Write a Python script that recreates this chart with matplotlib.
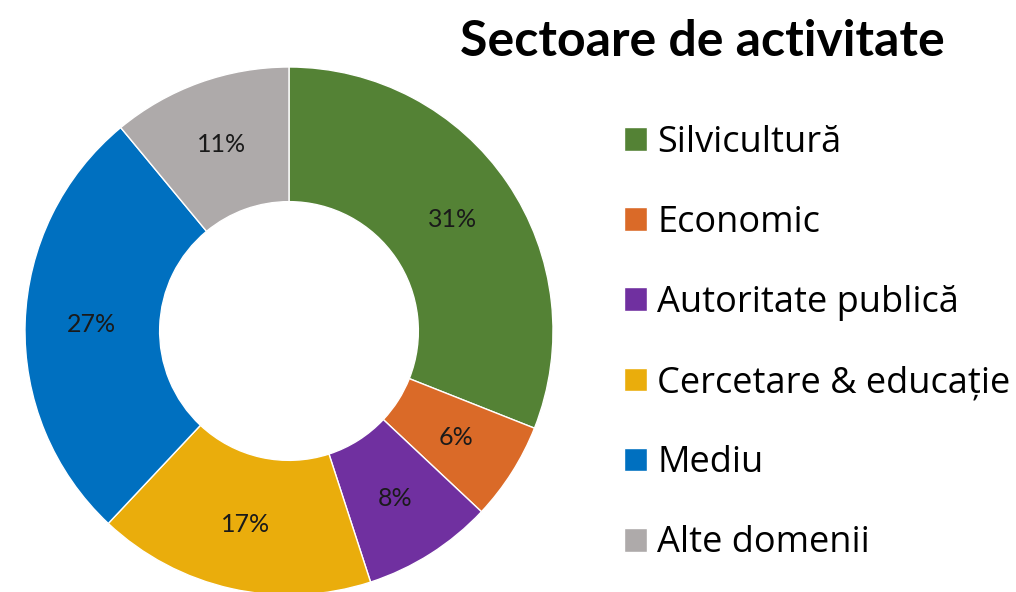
import matplotlib
matplotlib.use("Agg")
import matplotlib.pyplot as plt

categories = ['Silvicultură', 'Economic', 'Autoritate publică',
              'Cercetare & educație', 'Mediu', 'Alte domenii']
shares = [31, 6, 8, 17, 27, 11]
colors = ['#548235', '#DA6A28', '#7030A0', '#EAAD0C', '#0070C0', '#AEAAAA']
title = 'Sectoare de activitate'

fig = plt.figure(figsize=(10.16, 5.92), dpi=100)

# pie axes: square box, 528 px wide, centre at (289, 331) px from top-left
ax = fig.add_axes([25 / 1016, (592 - 331 - 264) / 592, 528 / 1016, 528 / 592])
wedges, texts, autotexts = ax.pie(
    shares, colors=colors, startangle=90, counterclock=False,
    radius=1, autopct='%d%%', pctdistance=0.75,
    wedgeprops=dict(width=0.51, edgecolor='white', linewidth=1),
    textprops=dict(family='Lato', fontsize=18, color='#1a1a1a'))
ax.set_xlim(-1, 1)
ax.set_ylim(-1, 1)
ax.set_aspect('auto')
ax.axis('off')

fig.text(702 / 1016, 1 - 41 / 592, title, ha='center', va='center',
         family='Lato', fontweight='bold', fontsize=36, color='black')

fig.legend(wedges, categories, loc='upper left',
           bbox_to_anchor=(624 / 1016, 1 - 125 / 592), frameon=False,
           prop=dict(family='Open Sans', size=26),
           handlelength=0.64, handleheight=0.64, handletextpad=0.28,
           labelspacing=1.22, borderpad=0, borderaxespad=0)

fig.savefig('out.png', dpi=100)
